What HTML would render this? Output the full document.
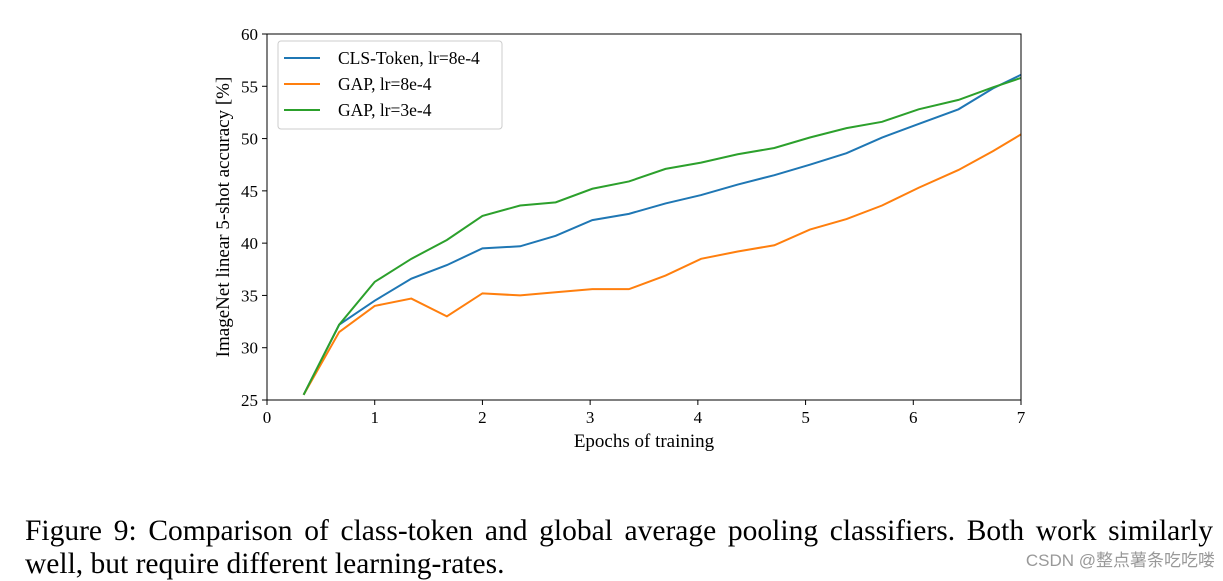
<!DOCTYPE html>
<html><head><meta charset="utf-8"><style>
body{margin:0;background:#fff;width:1223px;height:579px;overflow:hidden;position:relative;font-family:"Liberation Serif",serif}
.cap{position:absolute;left:25px;font-size:29.5px;line-height:34px;color:#000;white-space:nowrap}
</style></head><body>
<svg width="1223" height="480" style="position:absolute;left:0;top:0" font-family="Liberation Serif, serif">
<g id="g"></g>
</svg>
<div class="cap" style="top:514px;width:1188px;text-align:justify;text-align-last:justify">Figure 9: Comparison of class-token and global average pooling classifiers. Both work similarly</div>
<div class="cap" style="top:547px">well, but require different learning-rates.</div>
<div style="position:absolute;right:8px;top:546px;font-family:'Liberation Sans','Noto Sans CJK SC',sans-serif;font-size:17px;color:#999">CSDN @整点薯条吃吃喽</div>
<script>
const epochs=[0.34,0.67,1.0,1.34,1.67,2.0,2.35,2.68,3.02,3.36,3.7,4.03,4.37,4.71,5.04,5.38,5.71,6.05,6.42,6.74,7.0];
const clsToken=[25.5,32.2,34.5,36.6,37.9,39.5,39.7,40.7,42.2,42.8,43.8,44.6,45.6,46.5,47.5,48.6,50.1,51.4,52.8,54.8,56.1];
const gap8=[25.5,31.5,34.0,34.7,33.0,35.2,35.0,35.3,35.6,35.6,36.9,38.5,39.2,39.8,41.3,42.3,43.6,45.3,47.0,48.8,50.4];
const gap3=[25.5,32.2,36.3,38.5,40.3,42.6,43.6,43.9,45.2,45.9,47.1,47.7,48.5,49.1,50.1,51.0,51.6,52.8,53.7,54.9,55.8];
const xTicks=[0,1,2,3,4,5,6,7];
const yTicks=[25,30,35,40,45,50,55,60];
const legendLabels=["CLS-Token, lr=8e-4","GAP, lr=8e-4","GAP, lr=3e-4"];
const L=267,R=1021,T=34,B=400;
const sx=v=>L+(v-0)/7*(R-L), sy=v=>B-(v-25)/35*(B-T);
const g=document.getElementById('g');const NS='http://www.w3.org/2000/svg';
function mk(t,a,p){const e=document.createElementNS(NS,t);for(const k in a)e.setAttribute(k,a[k]);(p||g).appendChild(e);return e;}
xTicks.forEach(v=>{const x=sx(v);
const t=mk('line',{x1:x,x2:x,y1:B,y2:B+5,stroke:'#000'});


const l=mk('text',{x:x,y:B+23,'text-anchor':'middle','font-size':17});l.textContent=v;

});
yTicks.forEach(v=>{const y=sy(v);
const t=mk('line',{x1:L-5,x2:L,y1:y,y2:y,stroke:'#000'});


const l=mk('text',{x:L-9,y:y+6,'text-anchor':'end','font-size':17});l.textContent=v;

});
const series=[[clsToken,'#1f77b4','cls-token-line'],[gap8,'#ff7f0e','gap-8e-4-line'],[gap3,'#2ca02c','gap-3e-4-line']];
series.forEach(s=>{const p=mk('polyline',{points:epochs.map((e,i)=>sx(e)+','+sy(s[0][i])).join(' '),fill:'none',stroke:s[1],'stroke-width':2});

});
const fr=mk('rect',{x:L,y:T,width:R-L,height:B-T,fill:'none',stroke:'#000','stroke-width':1});


const lg=mk('rect',{x:278,y:41,width:224,height:88,rx:3,fill:'#fff',stroke:'#ccc'});


legendLabels.forEach((t,i)=>{const y=58+i*26;
const ln=mk('line',{x1:284,x2:320,y1:y,y2:y,stroke:series[i][1],'stroke-width':2});


const tx=mk('text',{x:338,y:y+6,'font-size':17.5});tx.textContent=t;

});
const xt=mk('text',{x:(L+R)/2,y:447,'text-anchor':'middle','font-size':19});xt.textContent='Epochs of training';


const yt=mk('text',{x:0,y:0,'text-anchor':'middle','font-size':19,transform:'translate(229,217) rotate(-90)'});yt.textContent='ImageNet linear 5-shot accuracy [%]';


</script>
</body></html>
